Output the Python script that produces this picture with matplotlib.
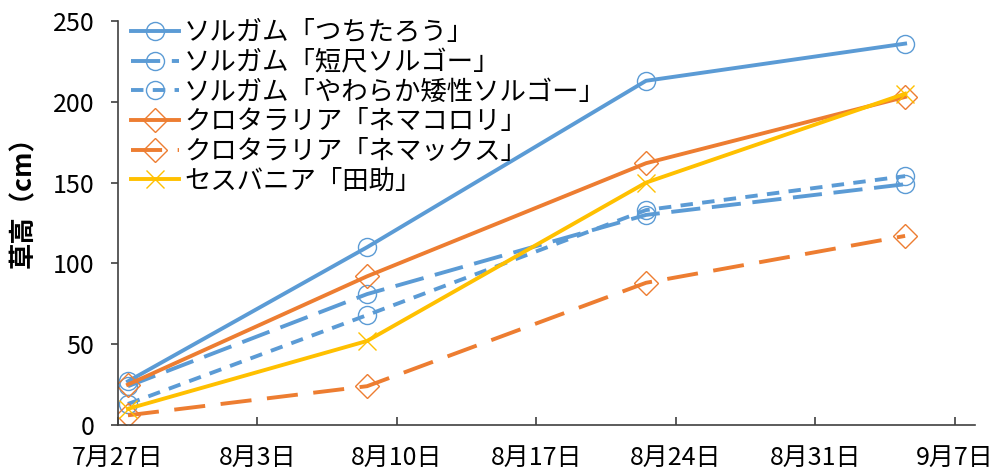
import matplotlib
matplotlib.use("Agg")
import matplotlib.pyplot as plt
import matplotlib.dates as mdates
from matplotlib.ticker import FuncFormatter, MultipleLocator
import pandas as pd

# measurement dates and plant heights (cm)
dates = ["2023-07-27", "2023-08-08", "2023-08-22", "2023-09-04"]
tsuchitarou = [27, 110, 213, 236]
tanjaku = [24, 81, 130, 149]
yawaraka = [13, 68, 133, 154]
nemakorori = [25, 92, 162, 203]
nemax = [6, 24, 88, 117]
densuke = [10, 52, 150, 205]

labels = ["ソルガム「つちたろう」", "ソルガム「短尺ソルゴー」", "ソルガム「やわらか矮性ソルゴー」",
          "クロタラリア「ネマコロリ」", "クロタラリア「ネマックス」", "セスバニア「田助」"]

BLUE = "#5B9BD5"
ORANGE = "#ED7D31"
YELLOW = "#FFC000"

plt.rcParams['font.family'] = ['Noto Sans CJK JP', 'DejaVu Sans']

# excel puts the points in the middle of the day
x = pd.to_datetime(dates) + pd.Timedelta(hours=12)

fig = plt.figure(figsize=(10.05, 4.75), dpi=100)
ax = fig.add_axes([0.1174, 0.1053, 0.8526, 0.8505])

lw = 2.8
series = [
    (tsuchitarou, BLUE, 'o', '-'),
    (tanjaku, BLUE, 'o', (0, (7.5, 3))),
    (yawaraka, BLUE, 'o', (0, (3.2, 2.4))),
    (nemakorori, ORANGE, 'D', '-'),
    (nemax, ORANGE, 'D', (0, (8, 4))),
    (densuke, YELLOW, 'x', '-'),
]
for (vals, col, mk, ls), lab in zip(series, labels):
    ms = 13 if mk != 'D' else 12
    ax.plot(x, vals, color=col, lw=lw, linestyle=ls, marker=mk, markersize=ms,
            markerfacecolor='none', markeredgecolor=col, markeredgewidth=1.0, label=lab)

ax.set_xlim(pd.Timestamp("2023-07-27"), pd.Timestamp("2023-09-08"))
ax.set_ylim(0, 250)
ax.yaxis.set_major_locator(MultipleLocator(50))
ax.set_xticks(pd.date_range("2023-07-27", "2023-09-07", freq="7D"))
ax.xaxis.set_major_formatter(FuncFormatter(
    lambda v, p: "{}月{}日".format(mdates.num2date(v).month, mdates.num2date(v).day)))

for s in ['top', 'right']:
    ax.spines[s].set_visible(False)
for s in ['left', 'bottom']:
    ax.spines[s].set_color('#404040')
    ax.spines[s].set_linewidth(1.2)

ax.tick_params(axis='y', direction='out', length=5, width=1.2, color='#404040', pad=12,
               labelsize=18)
ax.tick_params(axis='x', direction='in', length=6, width=1.2, color='#404040', pad=14,
               labelsize=18)

ax.set_ylabel("草高（cm）", fontsize=19, fontweight='bold')
ax.yaxis.set_label_coords(-0.094, 0.567)

ax.legend(loc='upper left', bbox_to_anchor=(-0.006, 1.05), frameon=False, fontsize=19,
          handlelength=1.8, handletextpad=0.2, labelspacing=0.1, borderpad=0.2)

fig.savefig("out.png", dpi=100)
